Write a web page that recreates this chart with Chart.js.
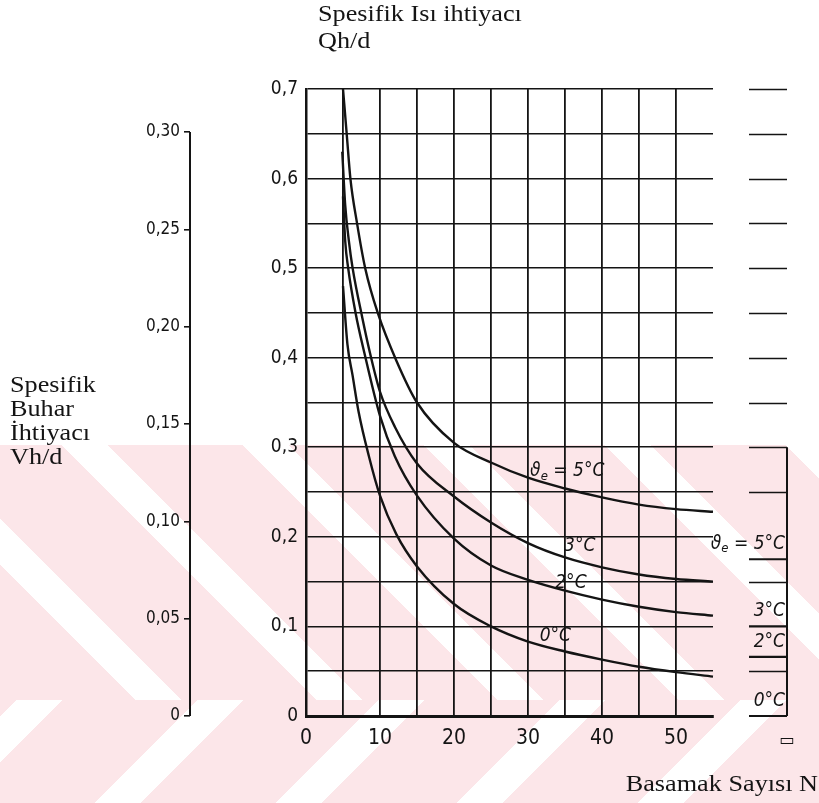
<!DOCTYPE html>
<html>
<head>
<meta charset="utf-8">
<script src="https://cdn.jsdelivr.net/npm/chart.js@4.4.1/dist/chart.umd.min.js"></script>
<style>
  html, body { margin: 0; padding: 0; background: #fff; }
  #wrap { position: relative; width: 819px; height: 803px; overflow: hidden; }
  .band { position: absolute; left: 0; width: 819px; }
  #bandTop { top: 445px; height: 255px;
    background: repeating-linear-gradient(45deg, #fce6e9 0 96px, #fff 96px 128px); }
  #bandLow { top: 700px; height: 103px;
    background: repeating-linear-gradient(-45deg, #fce6e9 0 96px, #fff 96px 128px); }
  #chart { position: absolute; left: 0; top: 0; }
</style>
</head>
<body>
<div id="wrap">
  <div class="band" id="bandTop"></div>
  <div class="band" id="bandLow"></div>
  <canvas id="chart" width="819" height="803"></canvas>
</div>
<script>
// Qh/d against step count N, one curve per ambient temperature
const curve5N = [5, 5.5, 6, 6.9, 8, 9.7, 12.2, 15, 20, 25, 30, 35, 40, 45, 50, 55];
const curve5Q = [0.70, 0.65, 0.60, 0.55, 0.50, 0.45, 0.397, 0.350, 0.305, 0.283, 0.266, 0.254, 0.244, 0.236, 0.231, 0.228];

const curve3N = [4.9, 5.3, 5.8, 6.3, 7.6, 8.8, 10, 12, 15, 20, 25, 30, 35, 40, 45, 50, 55];
const curve3Q = [0.63, 0.57, 0.53, 0.50, 0.445, 0.40, 0.362, 0.323, 0.282, 0.245, 0.216, 0.193, 0.177, 0.166, 0.158, 0.153, 0.150];

const curve2N = [5.0, 5.3, 5.7, 6.7, 7.9, 10, 12, 15, 20, 25, 30, 35, 40, 45, 50, 55];
const curve2Q = [0.58, 0.53, 0.50, 0.45, 0.405, 0.335, 0.29, 0.246, 0.198, 0.168, 0.152, 0.140, 0.130, 0.122, 0.116, 0.112];

const curve0N = [5.0, 5.6, 6.3, 7.1, 8.5, 10, 12.2, 15, 20, 25, 30, 35, 40, 45, 50, 55];
const curve0Q = [0.48, 0.415, 0.38, 0.34, 0.29, 0.246, 0.203, 0.167, 0.125, 0.100, 0.083, 0.072, 0.063, 0.055, 0.049, 0.044];

// labels written along the curves
const curveLabelText = ['5°C', '3°C', '2°C', '0°C'];
const curveLabelN = [35.3, 37.0, 35.8, 33.7];
const curveLabelQ = [0.273, 0.190, 0.148, 0.089];

// side scale at the right: plain dashes and the labelled marks
const panelTicks = [0.7, 0.65, 0.6, 0.55, 0.5, 0.45, 0.4, 0.35, 0.3, 0.25, 0.15, 0.05];
const panelText = ['5°C', '3°C', '2°C', '0°C'];
const panelValues = [0.175, 0.1, 0.066, 0];

// Vh/d scale on the far left
const vTicks = [0, 0.05, 0.10, 0.15, 0.20, 0.25, 0.30];

const INK = '#141414';
const HAND = '"Liberation Sans Narrow", "DejaVu Sans Condensed", sans-serif';
const SERIF = '"Liberation Serif", "DejaVu Serif", serif';

function pts(ns, qs) { return ns.map((n, i) => ({ x: n, y: qs[i] })); }

function curve(label, ns, qs) {
  return {
    label, data: pts(ns, qs), borderColor: INK, borderWidth: 2.4,
    pointRadius: 0, cubicInterpolationMode: 'monotone', fill: false, clip: 2
  };
}

// serif caption text, a little wider than the plain face
function wideText(ctx, text, x, y, align) {
  ctx.save();
  ctx.font = '23px ' + SERIF;
  const w = ctx.measureText(text).width * 1.14;
  ctx.translate(align === 'right' ? x - w : x, y);
  ctx.scale(1.14, 1);
  ctx.textAlign = 'left';
  ctx.textBaseline = 'alphabetic';
  ctx.fillText(text, 0, 0);
  ctx.restore();
}

// draws "ϑe = 5°C" with a lowered e, or just the text when withTheta is false
function drawTempLabel(ctx, text, x, y, size, align, withTheta) {
  const sub = Math.round(size * 0.7);
  const parts = [];
  if (withTheta) {
    parts.push({ t: 'ϑ', f: 'italic ' + size + 'px ' + HAND, dy: 0 });
    parts.push({ t: 'e', f: 'italic ' + sub + 'px ' + HAND, dy: size * 0.25 });
    parts.push({ t: ' = ' + text, f: 'italic ' + size + 'px ' + HAND, dy: 0 });
  } else {
    parts.push({ t: text, f: 'italic ' + size + 'px ' + HAND, dy: 0 });
  }
  let w = 0;
  parts.forEach(p => { ctx.font = p.f; p.w = ctx.measureText(p.t).width; w += p.w; });
  let cx = align === 'right' ? x - w : x - w / 2;
  ctx.textAlign = 'left';
  ctx.textBaseline = 'middle';
  parts.forEach(p => { ctx.font = p.f; ctx.fillText(p.t, cx, y + p.dy); cx += p.w; });
}

const decor = {
  id: 'decor',
  afterDraw(chart) {
    const { ctx } = chart;
    const x = chart.scales.x, y = chart.scales.y, v = chart.scales.yV;
    ctx.save();
    ctx.fillStyle = INK;
    ctx.strokeStyle = INK;

    // axis titles
    wideText(ctx, 'Spesifik Isı ihtiyacı', 318, 21);
    wideText(ctx, 'Qh/d', 318, 48);
    ['Spesifik', 'Buhar', 'İhtiyacı', 'Vh/d'].forEach((s, i) => wideText(ctx, s, 10, 392 + i * 24));
    wideText(ctx, 'Basamak Sayısı N', 818, 791, 'right');

    // Vh/d axis line, only as long as its scale
    ctx.lineWidth = 2;
    ctx.beginPath();
    ctx.moveTo(v.right, v.getPixelForValue(0.30));
    ctx.lineTo(v.right, v.getPixelForValue(0));
    ctx.stroke();

    // curve labels
    curveLabelText.forEach((t, i) => {
      drawTempLabel(ctx, t, x.getPixelForValue(curveLabelN[i]), y.getPixelForValue(curveLabelQ[i]), 19, 'center', i === 0);
    });

    // right-hand side scale
    const pl = 749, pr = 787;
    ctx.lineWidth = 1.6;
    panelTicks.forEach(q => {
      const py = Math.round(y.getPixelForValue(q)) + 0.5;
      ctx.beginPath(); ctx.moveTo(pl, py); ctx.lineTo(pr, py); ctx.stroke();
    });
    ctx.lineWidth = 2.2;
    panelValues.forEach((q, i) => {
      const py = y.getPixelForValue(q);
      ctx.beginPath(); ctx.moveTo(pl, py); ctx.lineTo(pr, py); ctx.stroke();
      drawTempLabel(ctx, panelText[i], pr - 2, py - 15, 19, 'right', i === 0);
    });
    ctx.lineWidth = 2;
    ctx.beginPath();
    ctx.moveTo(pr, y.getPixelForValue(0.3));
    ctx.lineTo(pr, y.getPixelForValue(0));
    ctx.stroke();

    ctx.font = '16px "DejaVu Sans", sans-serif';
    ctx.textAlign = 'center';
    ctx.textBaseline = 'middle';
    ctx.fillText('▭', pr, 741);
    ctx.restore();
  }
};

const qLabel = v => {
  const h = Math.round(v * 100);
  if (h % 10 !== 0) return '';
  return h === 0 ? '0' : (h / 100).toFixed(1).replace('.', ',');
};
const vLabel = v => {
  const h = Math.round(v * 100);
  return h === 0 ? '0' : (h / 100).toFixed(2).replace('.', ',');
};

new Chart(document.getElementById('chart'), {
  type: 'line',
  data: {
    datasets: [
      curve('5°C', curve5N, curve5Q),
      curve('3°C', curve3N, curve3Q),
      curve('2°C', curve2N, curve2Q),
      curve('0°C', curve0N, curve0Q)
    ]
  },
  options: {
    responsive: false,
    animation: false,
    layout: { padding: { left: 0, right: 106, top: 89, bottom: 0 } },
    plugins: { legend: { display: false }, tooltip: { enabled: false } },
    scales: {
      x: {
        type: 'linear', min: 0, max: 55,
        ticks: {
          stepSize: 5, autoSkip: false, maxRotation: 0, padding: 10, color: INK,
          font: { family: HAND, size: 21 },
          callback: v => (v % 10 === 0 && v <= 50 ? String(v) : '')
        },
        grid: {
          drawTicks: false, lineWidth: 1.8,
          color: c => (c.tick && c.tick.value >= 55 ? 'rgba(0,0,0,0)' : INK)
        },
        border: { color: INK, width: 3 },
        afterFit: s => { s.height = 87; }
      },
      y: {
        position: 'left', weight: 0, min: 0, max: 0.7,
        ticks: { stepSize: 0.05, autoSkip: false, padding: 8, color: INK, font: { family: HAND, size: 19 }, callback: qLabel },
        grid: { drawTicks: false, lineWidth: 1.6, color: INK },
        border: { color: INK, width: 2.5 },
        afterFit: s => { s.width = 116; }
      },
      yV: {
        position: 'left', weight: 1, min: 0, max: 0.3221,
        afterBuildTicks: s => { s.ticks = vTicks.map(val => ({ value: val })); },
        ticks: { autoSkip: false, padding: 4, color: INK, font: { family: HAND, size: 17 }, callback: vLabel },
        grid: { drawOnChartArea: false, drawTicks: true, tickLength: 6, lineWidth: 1.6, color: INK },
        border: { display: false },
        afterFit: s => { s.width = 190; }
      }
    }
  },
  plugins: [decor]
});
</script>
</body>
</html>
